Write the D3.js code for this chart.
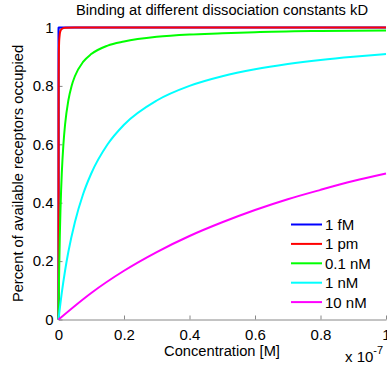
<!DOCTYPE html>
<html>
<head>
<meta charset="utf-8">
<script src="https://cdn.jsdelivr.net/npm/d3@7"></script>
<style>
  html, body { margin: 0; padding: 0; background: #fff; overflow: hidden; }
  svg { display: block; font-family: "Liberation Sans", Arial, sans-serif; }
</style>
</head>
<body>
<svg id="chart" width="387" height="369"></svg>
<script>
// Fraction of receptors occupied vs. ligand concentration (x in units of 1e-7 M)
const seriesNames = ["1 fM", "1 pm", "0.1 nM", "1 nM", "10 nM"];
const seriesColors = ["#0000ff", "#ff0000", "#00ff00", "#00ffff", "#ff00ff"];

const blueX = [0, 0.0000001, 0.000001, 0.00001, 0.0001, 0.001, 1];
const blueY = [0, 0.5, 0.909, 0.99, 0.999, 1.0, 1.0];

const redX = [0, 0.00005, 0.0001, 0.0002, 0.0005, 0.001, 0.002, 0.003, 0.005, 0.01, 0.02, 0.05, 1];
const redY = [0, 0.333, 0.5, 0.667, 0.833, 0.909, 0.952, 0.968, 0.985, 0.995, 0.999, 1.0, 1.0];

const greenX = [0, 0.001, 0.002, 0.004, 0.006, 0.008, 0.01, 0.015, 0.02, 0.03, 0.04, 0.05, 0.075, 0.1, 0.15, 0.2, 0.3, 0.4, 0.5, 0.6, 0.8, 1];
const greenY = [0, 0.091, 0.167, 0.286, 0.375, 0.444, 0.5, 0.6, 0.667, 0.75, 0.8, 0.833, 0.882, 0.909, 0.938, 0.952, 0.968, 0.976, 0.980, 0.984, 0.988, 0.990];

const cyanX = [0, 0.01, 0.02, 0.03, 0.05, 0.075, 0.1, 0.15, 0.2, 0.3, 0.4, 0.5, 0.6, 0.7, 0.8, 0.9, 1];
const cyanY = [0, 0.091, 0.167, 0.231, 0.333, 0.429, 0.5, 0.6, 0.667, 0.75, 0.8, 0.833, 0.857, 0.875, 0.889, 0.9, 0.909];

const magentaX = [0, 0.1, 0.2, 0.3, 0.4, 0.5, 0.6, 0.7, 0.8, 0.9, 1];
const magentaY = [0, 0.091, 0.167, 0.231, 0.286, 0.333, 0.375, 0.412, 0.444, 0.474, 0.5];

const xTicks = [0, 0.2, 0.4, 0.6, 0.8, 1];
const yTicks = [0, 0.2, 0.4, 0.6, 0.8, 1];

const seriesX = [blueX, redX, greenX, cyanX, magentaX];
const seriesY = [blueY, redY, greenY, cyanY, magentaY];

const svg = d3.select("#chart");
const x = d3.scaleLinear().domain([0, 1]).range([58.5, 386]);
const y = d3.scaleLinear().domain([0, 1]).range([319.5, 27.5]);

const axisColor = "#888";
const fontSize = 15;

// x axis
const gx = svg.append("g").attr("transform", `translate(0,${y(0)})`)
  .call(d3.axisBottom(x).tickValues(xTicks).tickFormat(d3.format("")).tickSizeInner(-4).tickSizeOuter(0).tickPadding(10));
// y axis
const gy = svg.append("g").attr("transform", `translate(${x(0)},0)`)
  .call(d3.axisLeft(y).tickValues(yTicks).tickFormat(d3.format("")).tickSizeInner(-4).tickSizeOuter(0).tickPadding(5));

[gx, gy].forEach(g => {
  g.select(".domain").attr("stroke", axisColor).attr("stroke-width", 1);
  g.selectAll(".tick line").attr("stroke", axisColor);
  g.selectAll(".tick text").attr("fill", "#000").style("font-size", fontSize + "px")
    .style("font-family", "'Liberation Sans', Arial, sans-serif");
});

// curves
const line = d3.line()
  .x(d => x(d[0]))
  .y(d => y(d[1]))
  .curve(d3.curveMonotoneX);

seriesNames.forEach((name, i) => {
  const pts = seriesX[i].map((v, j) => [v, seriesY[i][j]]);
  svg.append("path")
    .datum(pts)
    .attr("d", line)
    .attr("fill", "none")
    .attr("stroke", seriesColors[i])
    .attr("stroke-width", 2)
    .attr("stroke-linejoin", "round");
});

// legend
const legend = svg.append("g");
seriesNames.forEach((name, i) => {
  const ly = 224.5 + i * 19.4;
  legend.append("line")
    .attr("x1", 291).attr("x2", 322)
    .attr("y1", ly).attr("y2", ly)
    .attr("stroke", seriesColors[i]).attr("stroke-width", 2);
  legend.append("text")
    .attr("x", 325).attr("y", ly + 5.5)
    .style("font-size", fontSize + "px")
    .attr("fill", "#000")
    .text(name);
});

// title
svg.append("text")
  .attr("x", 222).attr("y", 15)
  .attr("text-anchor", "middle")
  .style("font-size", "14.7px")
  .text("Binding at different dissociation constants kD");

// axis labels
svg.append("text")
  .attr("x", 222).attr("y", 356)
  .attr("text-anchor", "middle")
  .style("font-size", "14.7px")
  .text("Concentration [M]");

svg.append("text")
  .attr("transform", `translate(23,${(y(0) + y(1)) / 2}) rotate(-90)`)
  .attr("text-anchor", "middle")
  .style("font-size", "14.7px")
  .text("Percent of available receptors occupied");

// axis exponent
const expo = svg.append("text")
  .attr("x", 345).attr("y", 362)
  .style("font-size", fontSize + "px");
expo.append("tspan").text("x 10");
expo.append("tspan").attr("dy", -8).style("font-size", "11px").text("-7");
</script>
</body>
</html>
